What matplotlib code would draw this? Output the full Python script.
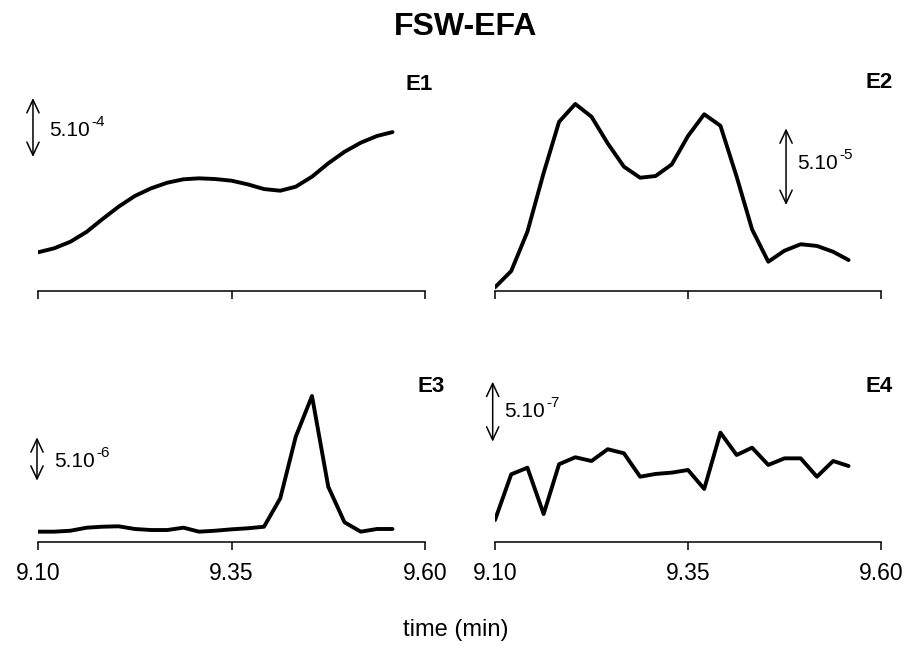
import numpy as np
import matplotlib
matplotlib.use("Agg")
import matplotlib.pyplot as plt

plt.rcParams['font.family'] = ['Liberation Sans', 'DejaVu Sans']

# retention time (min), one scan every ~1.25 s
time_min = [9.100, 9.121, 9.142, 9.163, 9.183, 9.204, 9.225, 9.246, 9.267, 9.288,
            9.308, 9.329, 9.350, 9.371, 9.392, 9.413, 9.433, 9.454, 9.475, 9.496,
            9.517, 9.538, 9.558]

# evolving factor profiles, each in units of its scale bar exponent
e1 = [3.28, 3.62, 4.18, 5.02, 6.08, 7.14, 8.05, 8.70, 9.18, 9.47, 9.55, 9.49,
      9.35, 9.04, 8.64, 8.50, 8.84, 9.69, 10.82, 11.80, 12.57, 13.14, 13.47]   # x1e-4
e2 = [0.24, 1.30, 3.87, 7.70, 11.04, 12.20, 11.37, 9.63, 8.11, 7.39, 7.50, 8.26,
      10.11, 11.53, 10.78, 7.46, 4.02, 1.91, 2.63, 3.05, 2.94, 2.56, 2.02]       # x1e-5
e3 = [1.19, 1.19, 1.30, 1.65, 1.76, 1.81, 1.50, 1.38, 1.38, 1.65, 1.19, 1.30,
      1.46, 1.58, 1.76, 5.03, 12.13, 16.82, 6.37, 2.27, 1.19, 1.50, 1.50]        # x1e-6
e4 = [1.83, 5.64, 6.19, 2.33, 6.48, 7.06, 6.75, 7.73, 7.39, 5.44, 5.67, 5.78,
      6.00, 4.42, 9.11, 7.25, 7.86, 6.42, 6.97, 6.97, 5.44, 6.75, 6.33]          # x1e-7

labels = ['E1', 'E2', 'E3', 'E4']
exponents = ['-4', '-5', '-6', '-7']
scale_len = 5

W, H = 907, 646
fig = plt.figure(figsize=(W / 100, H / 100), dpi=100)


def add_ax(x0, x1, ytop, ybot):
    return fig.add_axes([x0 / W, 1 - ybot / H, (x1 - x0) / W, (ybot - ytop) / H])


# panel layout: box in pixels, ylim top, scale-bar (x, y0), text (x, y), label pos
panels = [
    dict(box=(38, 425, 60, 291), ytop=19.58, bar=(9.0935, 11.36), txt=(9.1145, 13.6), lab=(433, 85), ticklabels=False),
    dict(box=(495, 881, 60, 291), ytop=15.07, bar=(9.477, 5.61), txt=(9.4915, 8.3), lab=(893, 83), ticklabels=False),
    dict(box=(38, 425, 310, 542), ytop=26.73, bar=(9.0987, 7.06), txt=(9.1205, 9.3), lab=(445, 387), ticklabels=True),
    dict(box=(495, 881, 310, 542), ytop=19.33, bar=(9.097, 8.36), txt=(9.112, 10.9), lab=(893, 387), ticklabels=True),
]
series = [e1, e2, e3, e4]

for p, y, lab, ex in zip(panels, series, labels, exponents):
    ax = add_ax(*p['box'])
    ax.plot(time_min, y, color='black', lw=2.8, solid_joinstyle='round', solid_capstyle='round')
    ax.set_xlim(9.10, 9.60)
    ax.set_ylim(0, p['ytop'])
    for s in ['left', 'right', 'top']:
        ax.spines[s].set_visible(False)
    ax.spines['bottom'].set_linewidth(1.1)
    ax.set_yticks([])
    ax.set_xticks([9.10, 9.35, 9.60])
    ax.tick_params(axis='x', direction='out', length=5.5, width=1.1, pad=9, labelsize=16.5)
    if p['ticklabels']:
        ax.set_xticklabels(['9.10', '9.35', '9.60'])
    else:
        ax.set_xticklabels([])
    bx, by = p['bar']
    ax.annotate('', xy=(bx, by + scale_len), xytext=(bx, by), annotation_clip=False,
                arrowprops=dict(arrowstyle='<->,head_length=0.47,head_width=0.22', lw=1.1,
                                color='black', mutation_scale=20, shrinkA=0, shrinkB=0))
    tx, ty = p['txt']
    t = ax.text(tx, ty, '%d.10' % scale_len, fontsize=15, ha='left', va='center', clip_on=False)
    ax.annotate(ex, xy=(1.0, 0.95), xycoords=t, xytext=(1, 0), textcoords='offset points',
                fontsize=11, ha='left', va='center', annotation_clip=False)
    lx, ly = p['lab']
    fig.text(lx / W, 1 - ly / H, lab, fontsize=16, fontweight='bold', ha='right', va='center')

fig.text(466 / W, 1 - 27 / H, 'FSW-EFA', fontsize=23, fontweight='bold', ha='center', va='center')
fig.text(456 / W, 1 - 630 / H, 'time (min)', fontsize=17, ha='center', va='center')

fig.savefig('out.png', dpi=100)
